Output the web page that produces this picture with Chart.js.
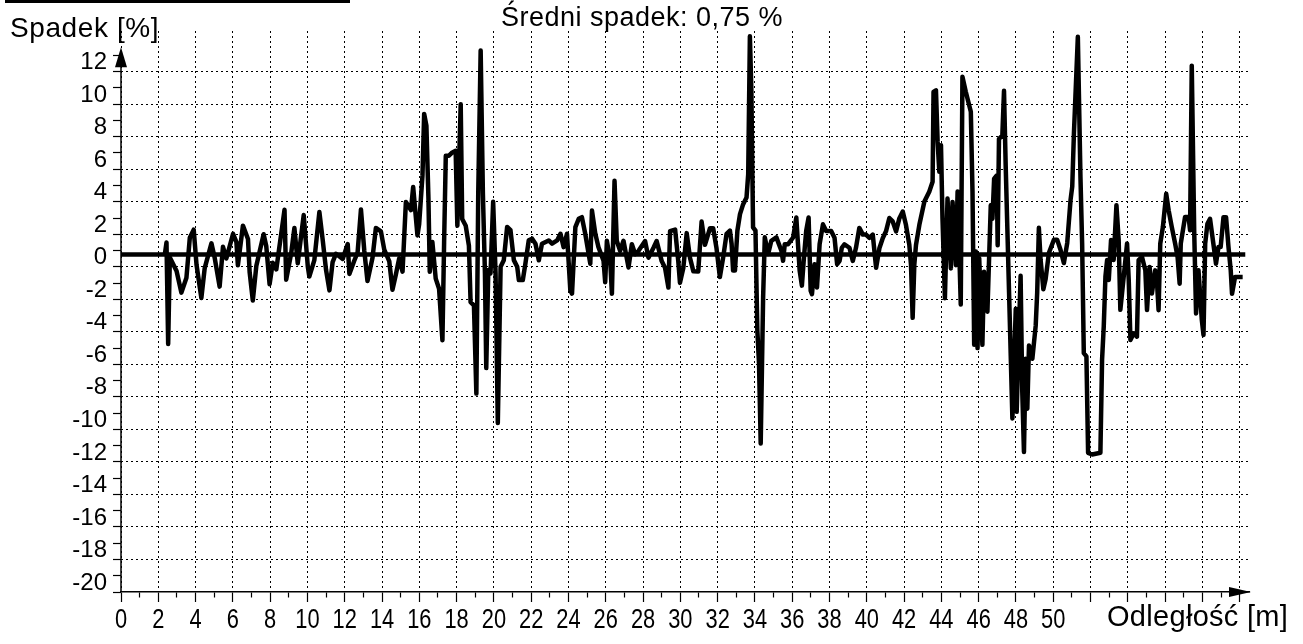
<!DOCTYPE html>
<html>
<head>
<meta charset="utf-8">
<title>Spadek</title>
<script src="https://cdn.jsdelivr.net/npm/chart.js@4/dist/chart.umd.min.js"></script>
<style>
  html, body { margin: 0; padding: 0; background: #fff; }
  canvas { display: block; }
</style>
</head>
<body>
<canvas id="spadekChart" width="1303" height="644"></canvas>
<script>
// odległość [m] i spadek [%]
const distance = [
    2.35, 2.44, 2.53, 2.62, 2.98, 3.24, 3.51, 3.69, 3.90, 4.05, 4.31, 4.49, 4.85, 5.03, 5.29, 5.47, 5.65,
    6.01, 6.19, 6.27, 6.54, 6.81, 6.90, 7.07, 7.26, 7.65, 7.79, 7.97, 8.14, 8.33, 8.77, 8.86, 9.13, 9.30,
    9.48, 9.80, 10.02, 10.10, 10.37, 10.64, 10.82, 11.00, 11.18, 11.35, 11.53, 11.89, 12.16, 12.25, 12.51,
    12.69, 12.87, 13.05, 13.22, 13.49, 13.67, 13.94, 14.12, 14.39, 14.56, 14.74, 14.92, 15.10, 15.28, 15.55,
    15.67, 15.90, 15.99, 16.17, 16.26, 16.38, 16.49, 16.56, 16.70, 16.88, 17.06, 17.24, 17.33, 17.42, 17.59,
    17.77, 17.95, 18.04, 18.22, 18.30, 18.49, 18.66, 18.75, 18.93, 19.06, 19.16, 19.29, 19.41, 19.52, 19.59,
    19.70, 19.82, 19.96, 20.09, 20.21, 20.36, 20.53, 20.71, 20.89, 21.07, 21.25, 21.34, 21.55, 21.69, 21.87,
    22.05, 22.23, 22.41, 22.58, 22.94, 23.12, 23.39, 23.57, 23.74, 23.92, 24.10, 24.19, 24.37, 24.55, 24.72,
    24.90, 25.17, 25.26, 25.44, 25.61, 25.88, 25.97, 26.06, 26.24, 26.33, 26.47, 26.59, 26.77, 26.95, 27.22,
    27.40, 27.58, 27.75, 28.11, 28.29, 28.56, 28.73, 29.00, 29.18, 29.36, 29.45, 29.72, 29.89, 29.98, 30.16,
    30.34, 30.52, 30.70, 30.96, 31.14, 31.32, 31.59, 31.76, 31.94, 32.12, 32.30, 32.48, 32.66, 32.75, 32.83,
    32.93, 33.06, 33.20, 33.37, 33.55, 33.64, 33.73, 33.81, 33.90, 34.03, 34.13, 34.22, 34.31, 34.44, 34.53,
    34.71, 34.88, 35.15, 35.42, 35.51, 35.60, 35.78, 36.05, 36.22, 36.31, 36.40, 36.52, 36.63, 36.75, 36.88,
    36.99, 37.06, 37.20, 37.33, 37.47, 37.65, 37.82, 38.09, 38.27, 38.41, 38.54, 38.66, 38.80, 39.07, 39.25,
    39.42, 39.60, 39.79, 39.96, 40.14, 40.32, 40.50, 40.68, 40.86, 41.03, 41.21, 41.39, 41.57, 41.75, 41.93,
    42.10, 42.28, 42.37, 42.46, 42.55, 42.64, 42.82, 43.09, 43.35, 43.53, 43.58, 43.71, 43.80, 43.89, 43.98,
    44.06, 44.19, 44.33, 44.51, 44.60, 44.78, 44.87, 45.04, 45.13, 45.31, 45.58, 45.67, 45.76, 45.85, 45.94,
    46.03, 46.20, 46.29, 46.47, 46.56, 46.65, 46.74, 46.83, 46.97, 47.02, 47.09, 47.27, 47.36, 47.45, 47.54,
    47.63, 47.81, 47.99, 48.04, 48.17, 48.25, 48.34, 48.43, 48.52, 48.61, 48.70, 48.88, 49.06, 49.14, 49.23,
    49.32, 49.47, 49.59, 49.77, 50.04, 50.21, 50.39, 50.57, 50.75, 50.93, 51.02, 51.11, 51.19, 51.32, 51.46,
    51.55, 51.64, 51.78, 51.87, 52.09, 52.53, 52.62, 52.71, 52.80, 52.89, 52.98, 53.10, 53.24, 53.39, 53.51,
    53.60, 53.69, 53.87, 53.96, 54.05, 54.14, 54.32, 54.49, 54.58, 54.76, 54.94, 55.03, 55.17, 55.29, 55.47,
    55.56, 55.65, 55.74, 55.88, 56.06, 56.19, 56.36, 56.54, 56.67, 56.78, 56.84, 57.07, 57.26, 57.34, 57.43,
    57.56, 57.66, 57.79, 57.97, 58.06, 58.15, 58.27, 58.41, 58.59, 58.73, 58.86, 58.98, 59.13, 59.27, 59.40,
    59.52, 59.59, 59.75, 59.93, 60.16
];
const slope = [
    0.75, 1.49, -4.75, 0.57, -0.26, -1.59, -0.67, 1.78, 2.28, 0.13, -1.92, -0.08, 1.44, 0.52, -1.22, 1.23, 0.51,
    2.03, 1.52, 0.09, 2.53, 1.71, -0.34, -2.08, 0.07, 2.00, 1.28, -1.07, 0.25, -0.16, 3.51, -0.79, 0.85, 2.38,
    0.22, 3.18, 0.01, -0.60, 0.41, 3.37, 1.63, -0.21, -1.45, 0.29, 0.80, 0.48, 1.40, -0.44, 0.37,
    0.88, 3.53, 0.97, -0.87, 0.55, 2.39, 2.18, 1.05, 0.33, -1.41, -0.49, 0.52, -0.30, 3.99, 3.48,
    4.91, 1.93, 2.60, 5.62, 9.40, 8.68, 4.18, -0.31, 1.52, -0.73, -1.35, -4.52, 1.51, 6.83, 6.83,
    7.03, 7.13, 2.53, 10.00, 2.94, 2.52, 1.30, -2.18, -2.38, -7.80, 4.51, 13.30, 4.50, -0.40, -6.23,
    -0.20, -0.40, 4.00, -0.41, -9.61, 0.00, 0.40, 2.45, 2.25, 0.41, 0.00, -0.82, -0.82, 0.20, 1.63,
    1.73, 1.42, 0.40, 1.42, 1.62, 1.42, 1.62, 2.03, 1.21, 2.03, -1.45, -1.65, 2.44, 2.95, 3.05,
    2.03, 0.19, 3.46, 2.03, 1.20, 0.38, -0.95, 1.60, 0.38, -1.66, 5.29, 1.60, 0.98, 1.60, -0.04,
    1.39, 0.77, 0.97, 1.58, 0.56, 1.17, 1.58, 0.35, -0.06, -1.28, 2.19, 2.29, 0.34, -0.99, -0.07,
    2.07, 0.54, -0.28, -0.29, 2.78, 1.35, 2.37, 2.37, 1.14, -0.63, 0.60, 2.03, 2.23, 1.41, -0.23,
    -0.23, 2.22, 3.24, 3.85, 4.26, 5.69, 14.18, 10.80, 2.42, 2.22, -3.91, -5.96, -10.87, -1.88, 1.81,
    0.79, 1.60, 1.81, 0.99, 0.37, 1.39, 1.39, 1.80, 3.03, 1.39, -0.24, -1.16, 0.58, 2.21, 3.03,
    -1.47, -1.68, 0.16, -1.27, 1.39, 2.61, 2.20, 2.20, 1.79, 0.16, 0.36, 1.17, 1.38, 1.17, 0.36,
    1.17, 2.39, 1.98, 1.98, 1.78, 1.98, -0.06, 1.16, 1.77, 2.18, 3.00, 2.79, 2.18, 2.99, 3.40,
    2.58, 1.36, 0.13, -3.14, 0.13, 1.35, 2.58, 4.01, 4.62, 5.23, 10.75, 10.85, 7.68, 5.84, 7.48,
    2.98, -1.93, 4.20, -0.10, 3.99, 0.10, 4.63, -2.32, 11.68, 10.76, 9.53, 4.62, -4.79, 0.94, -5.00,
    0.53, -4.80, -0.30, -2.76, 0.51, 3.78, 2.96, 5.42, 5.61, 1.32, 7.86, 8.06, 10.82, 6.22, 2.33,
    -1.55, -9.33, -2.58, -8.92, -3.61, -0.55, -7.70, -11.39, -5.66, -8.73, -4.84, -5.66, -3.62, -1.57, 2.40,
    0.46, -1.38, -0.77, 0.86, 1.67, 1.67, 1.05, 0.23, 1.46, 4.12, 4.94, 8.21, 10.46, 14.14, 5.53,
    1.44, -5.31, -5.51, -11.44, -11.54, -11.44, -5.71, -3.67, -0.60, 0.42, -0.81, 1.64, 0.42, 3.79, 1.64,
    -2.65, -1.63, 0.41, 1.43, -0.82, -4.50, -4.09, -4.30, 0.41, 0.61, -0.21, -2.66, -0.01, -1.65, -0.22,
    -0.83, -2.67, 1.42, 2.44, 4.49, 3.47, 2.44, 1.42, 0.60, -1.04, 1.42, 3.06, 3.06, 2.24, 12.37,
    2.24, -2.87, -0.21, -3.28, -4.20, 1.42, 2.64, 2.95, 1.41, 0.19, 1.21, 1.21, 3.05, 3.05, 1.21,
    -0.22, -1.66, -0.63, -0.63, -0.63
];

// średni spadek
const meanSlope = 0.75;
const trendX = [0, 60.3];
const trendY = [meanSlope, meanSlope];

// osie
const xMin = 0, xMax = 60.5, xLastLabel = 50;
const yMin = -20, yMax = 14.5, yLastLabel = 12, yArrowTip = 13.5;

const titleText = 'Średni spadek: 0,75 %';
const yAxisText = 'Spadek [%]';
const xAxisText = 'Odległość [m]';

const sansFont = '"Liberation Sans", Arial, sans-serif';

function toPoints(xs, ys) {
    return xs.map((x, i) => ({ x: x, y: ys[i] }));
}

function isEven(v) {
    return Math.abs(v % 2) < 1e-9;
}

const decorations = {
    id: 'decorations',
    afterDraw(chart) {
        const ctx = chart.ctx;
        const area = chart.chartArea;
        const xs = chart.scales.x;
        const ys = chart.scales.y;
        const tipY = ys.getPixelForValue(yArrowTip);
        ctx.save();
        ctx.fillStyle = '#000';
        ctx.strokeStyle = '#000';

        // oś Y ze strzałką
        ctx.lineWidth = 1.5;
        ctx.beginPath();
        ctx.moveTo(area.left, area.bottom);
        ctx.lineTo(area.left, tipY + 4);
        ctx.stroke();
        ctx.beginPath();
        ctx.moveTo(area.left, tipY);
        ctx.lineTo(area.left - 6, tipY + 20);
        ctx.lineTo(area.left + 6, tipY + 20);
        ctx.closePath();
        ctx.fill();

        // strzałka osi X
        ctx.beginPath();
        ctx.moveTo(area.right + 2, area.bottom);
        ctx.lineTo(area.right - 20, area.bottom - 5);
        ctx.lineTo(area.right - 20, area.bottom + 5);
        ctx.closePath();
        ctx.fill();

        // pasek u góry
        ctx.fillRect(5, 0, 345, 3);

        // etykiety osi X (wąskie cyfry)
        ctx.font = '28px ' + sansFont;
        ctx.textAlign = 'center';
        ctx.textBaseline = 'alphabetic';
        xs.ticks.forEach((t) => {
            if (!isEven(t.value) || t.value > xLastLabel) return;
            ctx.save();
            ctx.translate(xs.getPixelForValue(t.value), area.bottom + 36);
            ctx.scale(0.78, 1);
            ctx.fillText(String(t.value), 0, 0);
            ctx.restore();
        });

        ctx.textBaseline = 'middle';
        ctx.font = '27px ' + sansFont;
        ctx.letterSpacing = '0.5px';
        ctx.fillText(titleText, 642, 19);

        ctx.textAlign = 'left';
        ctx.font = '28px ' + sansFont;
        ctx.letterSpacing = '0.6px';
        ctx.fillText(yAxisText, 10, 29);

        ctx.font = '29px ' + sansFont;
        ctx.letterSpacing = '0.3px';
        ctx.fillText(xAxisText, 1107, 618);
        ctx.restore();
    }
};

new Chart(document.getElementById('spadekChart'), {
    type: 'line',
    data: {
        datasets: [{
            data: toPoints(distance, slope),
            borderColor: '#000',
            borderWidth: 4.5,
            borderJoinStyle: 'round',
            pointRadius: 0,
            fill: false,
            tension: 0
        }, {
            data: toPoints(trendX, trendY),
            borderColor: '#000',
            borderWidth: 4.5,
            pointRadius: 0,
            fill: false,
            tension: 0
        }]
    },
    options: {
        responsive: false,
        animation: false,
        layout: {
            padding: { top: 31, right: 54, left: 0, bottom: 0 }
        },
        plugins: {
            legend: { display: false },
            tooltip: { enabled: false }
        },
        scales: {
            x: {
                type: 'linear',
                min: xMin,
                max: xMax,
                afterBuildTicks: (scale) => {
                    const ticks = [];
                    for (let v = 0; v <= 60; v++) ticks.push({ value: v });
                    scale.ticks = ticks;
                },
                afterFit: (scale) => { scale.height = 52; },
                ticks: {
                    display: false,
                    autoSkip: false,
                    maxRotation: 0
                },
                grid: {
                    color: (c) => (isEven(c.tick.value) ? '#000' : 'rgba(0,0,0,0)'),
                    lineWidth: 1,
                    tickLength: 10,
                    tickColor: '#000',
                    tickWidth: 1.2,
                    tickBorderDash: (c) => (isEven(c.tick.value) ? [] : [5, 20])
                },
                border: { display: true, color: '#000', width: 1.5, dash: [2, 3] }
            },
            y: {
                type: 'linear',
                min: yMin,
                max: yMax,
                afterBuildTicks: (scale) => {
                    const ticks = [];
                    for (let v = -20; v <= 14; v++) ticks.push({ value: v });
                    scale.ticks = ticks;
                },
                afterFit: (scale) => { scale.width = 121; },
                ticks: {
                    autoSkip: false,
                    padding: 6,
                    labelOffset: -9,
                    color: '#000',
                    font: { family: sansFont, size: 24, lineHeight: 1 },
                    callback: (v) => (isEven(v) && v <= yLastLabel ? String(v) : '')
                },
                grid: {
                    color: (c) => (isEven(c.tick.value) && c.tick.value > yMin && c.tick.value <= yLastLabel ? '#000' : 'rgba(0,0,0,0)'),
                    lineWidth: 1,
                    tickLength: 8,
                    tickColor: (c) => (c.tick.value <= 13 ? '#000' : 'rgba(0,0,0,0)'),
                    tickWidth: 1.2
                },
                border: { display: false, dash: [2, 3] }
            }
        }
    },
    plugins: [decorations]
});
</script>
</body>
</html>
